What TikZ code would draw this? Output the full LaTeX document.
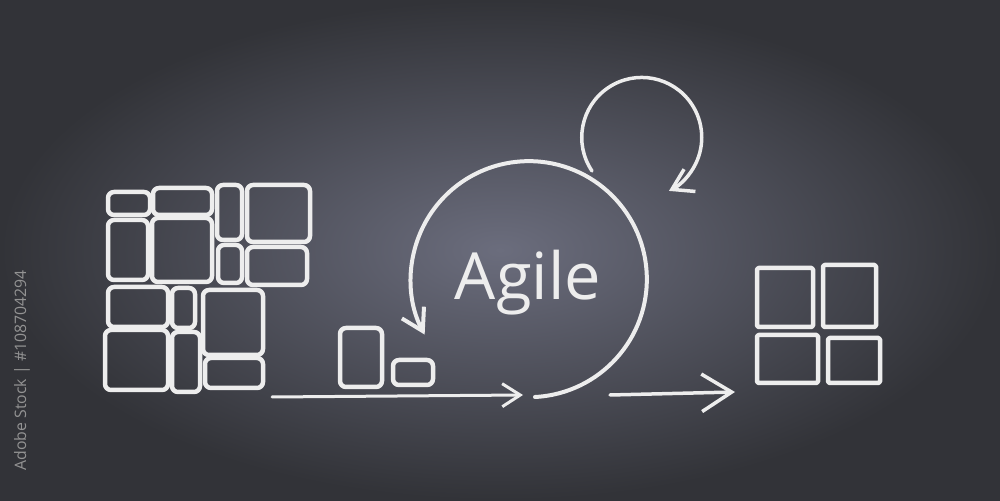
\documentclass[tikz,border=0pt]{standalone}
\usepackage{fontspec}
\setmainfont{Open Sans}
\usetikzlibrary{positioning,fit,arrows.meta}
\definecolor{board}{HTML}{323338}
\definecolor{boardlight}{HTML}{6B6D7D}
\definecolor{chalkwhite}{HTML}{EDEDED}
\tikzset{
  chalk/.style={draw=chalkwhite,line width=0.09cm,line cap=round,line join=round},
  block/.style={chalk,rounded corners=0.12cm,inner sep=0pt},
  box/.style={chalk,rounded corners=0.03cm,inner sep=0pt},
}

\begin{document}
\begin{tikzpicture}[x=0.02cm,y=0.02cm]
% board
\shade[inner color=boardlight,outer color=board] (0,0) rectangle (1000,500);
\useasboundingbox (0,0) rectangle (1000,500);
\node[rotate=90,anchor=east,text=gray!85,font=\small] (tag) at (22,236) {Adobe Stock | \#108704294};

% backlog
\node[block,fit={(108,308) (150,285)}] (l1) {};
\node[block,fit={(153,312) (212,285)}] (l2) {};
\node[block,fit={(217,315) (242,260)}] (l3) {};
\node[block,fit={(247,315) (310,258)}] (l4) {};
\node[block,fit={(108,280) (148,220)}] (l5) {};
\node[block,fit={(152,282) (212,218)}] (l6) {};
\node[block,fit={(218,255) (242,217)}] (l7) {};
\node[block,fit={(247,253) (307,215)}] (l8) {};
\node[block,fit={(108,213) (168,173)}] (l9) {};
\node[block,fit={(172,212) (195,172)}] (l10) {};
\node[block,fit={(203,210) (263,145)}] (l11) {};
\node[block,fit={(105,170) (168,110)}] (l12) {};
\node[block,fit={(172,168) (200,108)}] (l13) {};
\node[block,fit={(205,142) (263,112)}] (l14) {};

% sprint
\node[block,fit={(340,172) (382,113)}] (m1) {};
\node[block,fit={(393,140) (433,115)}] (m2) {};
\coordinate (lineS) at (272,103);
\coordinate (lineE) at (523,105);
\draw[chalk,line width=0.06cm,-{Straight Barb[length=0.36cm,width=0.46cm]}] (lineS) -- (lineE);

% loops
\coordinate (loopA) at (535,103);
\draw[chalk,line width=0.08cm,-{Straight Barb[length=0.42cm,width=0.5cm]}] (loopA) arc[start angle=-87,end angle=208,radius=118];
\coordinate (loopB) at (592,329);
\draw[chalk,line width=0.07cm,-{Straight Barb[length=0.4cm,width=0.5cm]}] (loopB) arc[start angle=214,end angle=-63,radius=60];
\node[anchor=base,text=chalkwhite,font=\fontsize{37}{44}\selectfont] (agile) at (528,200) {Agile};

% product
\coordinate (goS) at (610,105);
\coordinate (goE) at (735,108);
\draw[chalk,line width=0.07cm,-{Straight Barb[length=0.6cm,width=0.75cm]}] (goS) -- (goE);
\node[box,fit={(757,232) (813,173)}] (r1) {};
\node[box,fit={(823,235) (876,173)}] (r2) {};
\node[box,fit={(757,165) (818,117)}] (r3) {};
\node[box,fit={(828,162) (880,117)}] (r4) {};
\end{tikzpicture}
\end{document}
